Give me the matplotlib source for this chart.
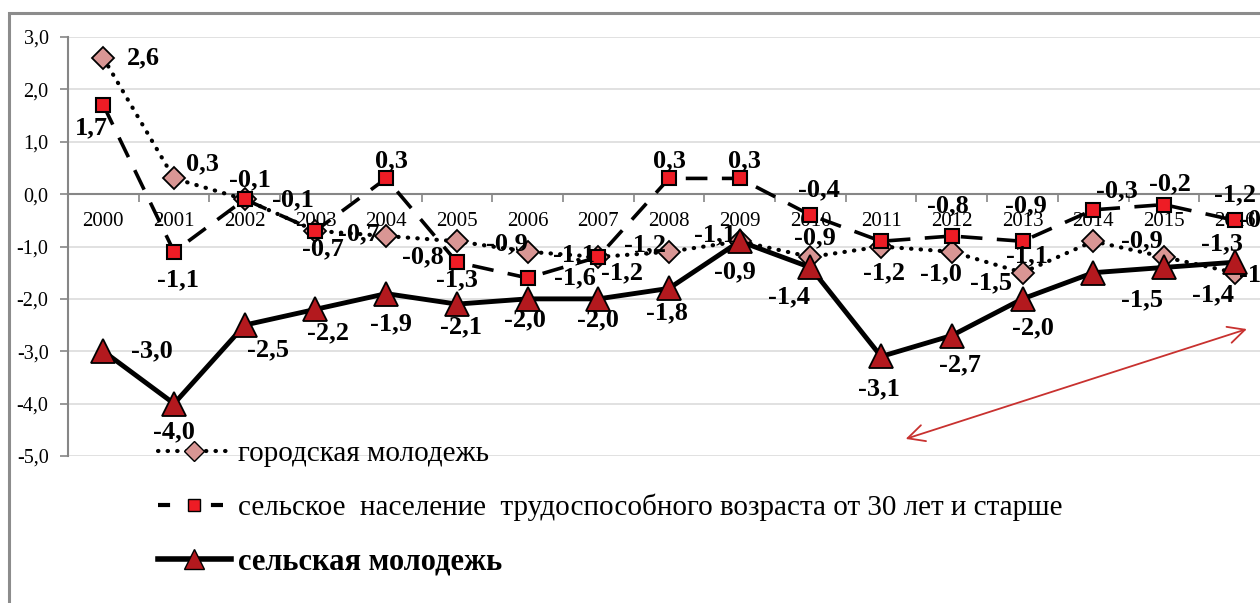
import matplotlib.pyplot as plt
from matplotlib.lines import Line2D
from matplotlib.patches import Rectangle
from matplotlib.ticker import FixedLocator, FuncFormatter

plt.rcParams['font.family'] = ['Liberation Serif', 'DejaVu Serif']

years = [str(y) for y in range(2000, 2017)]
urban_youth = [2.6, 0.3, -0.1, -0.7, -0.8, -0.9, -1.1, -1.2, -1.1, -0.9,
               -1.2, -1.0, -1.1, -1.5, -0.9, -1.2, -1.5]
rural_30plus = [1.7, -1.1, -0.1, -0.7, 0.3, -1.3, -1.6, -1.2, 0.3, 0.3,
                -0.4, -0.9, -0.8, -0.9, -0.3, -0.2, -0.5]
rural_youth = [-3.0, -4.0, -2.5, -2.2, -1.9, -2.1, -2.0, -2.0, -1.8, -0.9,
               -1.4, -3.1, -2.7, -2.0, -1.5, -1.4, -1.3]
series_names = ['городская молодежь',
                'сельское  население  трудоспособного возраста от 30 лет и старше',
                'сельская молодежь']

# label offsets in pixels (dx, dy down)
urban_off = [(40, 0), (28, -15), (48, 0), (43, 3), (37, 21), (50, 3), (46, 3), (47, -12),
             (46, -17), (75, -3), (74, 16), (60, 27), (75, 4), (-32, 10), (49, 0), (71, -62), (25, 2)]
rural30_off = [(-12, 23), (4, 28), (5, -20), (7, 18), (5, -18), (0, 18), (47, 0), (24, 16),
               (0, -18), (5, -18), (9, -25), None, (-4, -30), (3, -35), (24, -19), (6, -21), (25, 0)]
youth_off = [(49, 0), (0, 28), (23, 25), (13, 23), (5, 30), (4, 23), (-3, 21), (0, 21), (-2, 24),
             (-5, 31), (-21, 29), (-2, 32), (8, 29), (10, 29), (49, 27), (49, 27), (-13, -18)]

fig = plt.figure(figsize=(12.6, 6.03), dpi=100)
# outer chart border
fig.patches.append(Rectangle((9 / 1260, -0.1), 1.2, 1 - 13 / 603 + 0.1, transform=fig.transFigure,
                             fill=False, edgecolor='#8c8c8c', lw=2.2))

ax = fig.add_axes([68 / 1260, 1 - 456 / 603, 1202 / 1260, 419 / 603])
x = list(range(len(years)))

ax.plot(x, urban_youth, color='black', lw=3, ls=(0, (0.1, 2.2)), dash_capstyle='round',
        marker='D', ms=11, mfc='#d99694', mec='black', mew=1.3, zorder=3)
ax.plot(x, rural_30plus, color='black', lw=2.6, ls=(0, (6, 4)),
        marker='s', ms=10, mfc='#ee1c25', mec='black', mew=1.5, zorder=4)
ax.plot(x, rural_youth, color='black', lw=3.5,
        marker='^', ms=17, mfc='#b3191e', mec='black', mew=1.3, zorder=5)

def fmt(v):
    return ('%.1f' % v).replace('.', ',')

for vals, offs in [(urban_youth, urban_off), (rural_30plus, rural30_off), (rural_youth, youth_off)]:
    for i, (v, o) in enumerate(zip(vals, offs)):
        if o is None:
            continue
        ax.annotate(fmt(v), (i, v), xytext=(o[0], -o[1]), textcoords='offset pixels',
                    ha='center', va='center', fontsize=19, fontweight='bold', zorder=10,
                    annotation_clip=False)

ax.set_xlim(-0.5, len(years) - 0.5)
ax.set_ylim(-5, 3)
ax.set_yticks(range(-5, 4))
ax.yaxis.set_major_formatter(FuncFormatter(lambda v, p: fmt(v)))
ax.grid(axis='y', color='#dcdcdc', lw=1.2)
ax.set_axisbelow(True)
ax.set_xticks(x)
ax.set_xticklabels(years)
ax.xaxis.set_minor_locator(FixedLocator([i + 0.5 for i in x[:-1]]))
ax.tick_params(axis='x', which='major', length=0, pad=13, labelsize=15)
ax.tick_params(axis='x', which='minor', length=6, color='#868686', width=1.2)
ax.tick_params(axis='y', length=6, color='#868686', width=1.2, pad=8, labelsize=14.5)
for s in ['top', 'right']:
    ax.spines[s].set_visible(False)
ax.spines['bottom'].set_position(('data', 0))
ax.spines['bottom'].set_color('#868686')
ax.spines['bottom'].set_linewidth(1.5)
ax.spines['left'].set_color('#868686')
ax.spines['left'].set_linewidth(1.5)

ax.annotate('', xy=(16.21, -2.56), xytext=(11.31, -4.69),
            arrowprops=dict(arrowstyle='<->', color='#c8312f', lw=1.3, mutation_scale=30),
            annotation_clip=False)

handles = [
    Line2D([], [], color='black', lw=3, ls=(0, (0.1, 2.2)), dash_capstyle='round',
           marker='D', ms=10, mfc='#d99694', mec='black', mew=1),
    Line2D([], [], color='black', lw=3, ls=(0, (2.9, 9.8)),
           marker='s', ms=9, mfc='#ee1c25', mec='black', mew=1),
    Line2D([], [], color='black', lw=4,
           marker='^', ms=15, mfc='#b3191e', mec='black', mew=1),
]
leg = fig.legend(handles, series_names, loc='upper left', bbox_to_anchor=(158 / 1260, 1 - 441 / 603),
                 frameon=False, fontsize=21, handlelength=2.5, handletextpad=0.25,
                 labelspacing=0.9, borderpad=0, borderaxespad=0)
leg.get_texts()[2].set_fontweight('bold')
leg.get_texts()[2].set_fontsize(22)

fig.savefig('out.png', dpi=100)
